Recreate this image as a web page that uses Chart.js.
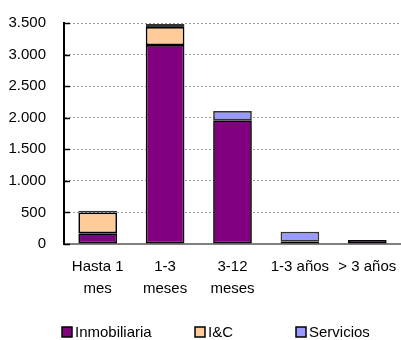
<!DOCTYPE html>
<html>
<head>
<meta charset="utf-8">
<script src="https://cdn.jsdelivr.net/npm/chart.js@4/dist/chart.umd.min.js"></script>
<style>
html,body{margin:0;padding:0;background:#fff;overflow:hidden;}
#wrap{width:401px;height:340px;position:relative;}
</style>
</head>
<body>
<div id="wrap"><canvas id="c" width="401" height="340"></canvas></div>
<script>
const categories = [["Hasta 1","mes"],["1-3","meses"],["3-12","meses"],"1-3 años","> 3 años"];
const inmobiliaria = [170, 3150, 1960, 35, 65];
const iyc = [330, 285, 0, 0, 0];
const servicios = [25, 50, 145, 160, 0];
const seriesNames = ["Inmobiliaria","I&C","Servicios"];
const yTicks = [0,500,1000,1500,2000,2500,3000,3500];

const FONT = "'Liberation Sans', Arial, sans-serif";

const innerTicks = {
  id:'innerTicks',
  afterDatasetsDraw(chart){
    const ctx = chart.ctx, y = chart.scales.y, a = chart.chartArea;
    ctx.save();
    ctx.strokeStyle = '#000'; ctx.lineWidth = 1.5;
    y.ticks.forEach(t=>{
      const py = Math.round(y.getPixelForValue(t.value))+0.5;
      ctx.beginPath(); ctx.moveTo(a.left, py); ctx.lineTo(a.left+6, py); ctx.stroke();
    });
    ctx.restore();
  }
};

const customLegend = {
  id:'customLegend',
  afterDraw(chart){
    const ctx = chart.ctx;
    const xs = [62, 195, 296];
    const yTop = 327, sz = 10;
    ctx.save();
    ctx.font = '15px ' + FONT;
    ctx.textBaseline = 'middle';
    chart.data.datasets.forEach((ds,i)=>{
      const x = xs[i];
      ctx.fillStyle = ds.backgroundColor;
      ctx.fillRect(x, yTop, sz, sz);
      ctx.strokeStyle = '#000'; ctx.lineWidth = 1.5;
      ctx.strokeRect(x, yTop, sz, sz);
      ctx.fillStyle = '#000';
      ctx.fillText(ds.label, x + sz + 3, yTop + sz/2 + 1);
    });
    ctx.restore();
  }
};

new Chart(document.getElementById('c'), {
  type:'bar',
  data:{
    labels: categories,
    datasets:[
      {label:seriesNames[0], data:inmobiliaria, backgroundColor:'#800080', borderColor:'#000', borderWidth:1.7, borderSkipped:false},
      {label:seriesNames[1], data:iyc, backgroundColor:'#FFCC99', borderColor:'#000', borderWidth:1.7, borderSkipped:false},
      {label:seriesNames[2], data:servicios, backgroundColor:'#9999FF', borderColor:'#333', borderWidth:1.7, borderSkipped:false}
    ]
  },
  options:{
    responsive:false,
    animation:false,
    devicePixelRatio:1,
    layout:{padding:{top:23,right:-3,left:0,bottom:0}},
    plugins:{legend:{display:false}, tooltip:{enabled:false}},
    datasets:{bar:{barPercentage:0.574, categoryPercentage:1}},
    scales:{
      x:{
        stacked:true,
        grid:{display:true, drawOnChartArea:false, drawTicks:false},
        border:{color:'#808080', width:2},
        ticks:{color:'#000', font:{family:FONT, size:15, lineHeight:1.45}, padding:12, maxRotation:0, autoSkip:false},
        afterFit(s){ s.height = 96; s.paddingRight = 0; s.paddingLeft = 0; }
      },
      y:{
        stacked:true,
        min:0, max:3500,
        afterBuildTicks(s){ s.ticks = yTicks.map(v=>({value:v})); },
        grid:{color:'#9a9a9a', lineWidth:1, drawTicks:false},
        border:{color:'#000', width:2, dash:[2,2]},
        ticks:{color:'#000', font:{family:FONT, size:15}, padding:18,
          callback:(v)=>String(v).replace(/\B(?=(\d{3})+(?!\d))/g,'.')},
        afterFit(s){ s.width = 64; s.paddingTop = 0; s.paddingBottom = 0; }
      }
    }
  },
  plugins:[innerTicks, customLegend]
});
</script>
</body>
</html>
